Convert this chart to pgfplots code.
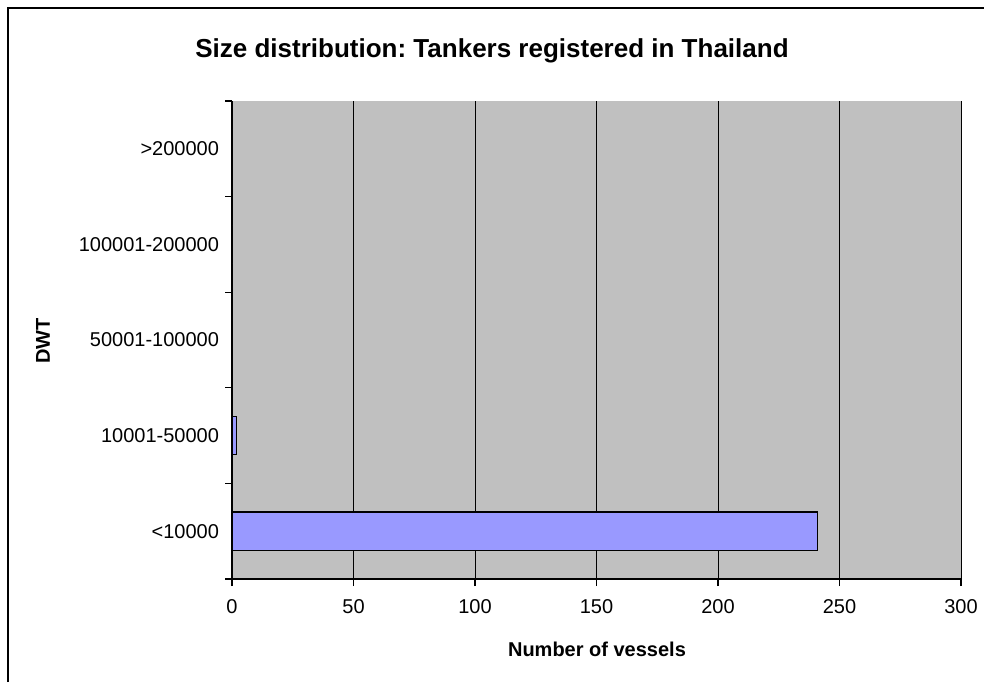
\documentclass[border=0pt]{standalone}
\usepackage{pgfplots}
\pgfplotsset{compat=1.18}
\usepackage{fontspec}
\setmainfont{Liberation Sans}
\frenchspacing
\definecolor{plotbg}{HTML}{C0C0C0}
\definecolor{barfill}{HTML}{9999FF}
\begin{document}
\begin{tikzpicture}[x=0.5pt,y=0.5pt]
\useasboundingbox (0,0) rectangle (984,-682);
\draw[line width=1pt] (7.5,-682) -- (7.5,-7.5) -- (984,-7.5);
\node[font=\bfseries\fontsize{13}{15}\selectfont] at (492,-51) {Size distribution: Tankers registered in Thailand};
\node[font=\bfseries\fontsize{10}{12}\selectfont, rotate=90] at (43,-341) {DWT};
\node[font=\bfseries\fontsize{10}{12}\selectfont] at (597,-649) {Number of vessels};
\begin{axis}[
  at={(116pt,-289.5pt)}, anchor=south west,
  scale only axis, width=364.5pt, height=239pt,
  xmin=0, xmax=300, ymin=-0.5, ymax=4.5,
  xtick={0,50,...,300},
  ytick={-0.5,0.5,1.5,2.5,3.5,4.5},
  yticklabels={},
  extra y ticks={0,1,2,3,4},
  extra y tick labels={<10000,10001-50000,50001-100000,100001-200000,>200000},
  extra y tick style={major tick length=0pt, yticklabel style={xshift=-3pt}},
  major tick length=3.5pt,
  tick align=outside,
  axis x line*=bottom, axis y line*=left,
  axis line style={-, line width=0.6pt},
  tick style={black, line width=0.6pt},
  xmajorgrids, grid style={black, line width=0.5pt},
  axis background/.style={fill=plotbg},
  ticklabel style={font=\fontsize{10}{12}\selectfont},
  /pgf/number format/assume math mode=true,
  xticklabel style={yshift=-3pt},
  xbar, bar width=0.4,
]
\addplot[fill=barfill, draw=black, line width=0.6pt] coordinates {(241,0) (2,1) (0,2) (0,3) (0,4)};
\end{axis}
\end{tikzpicture}
\end{document}
